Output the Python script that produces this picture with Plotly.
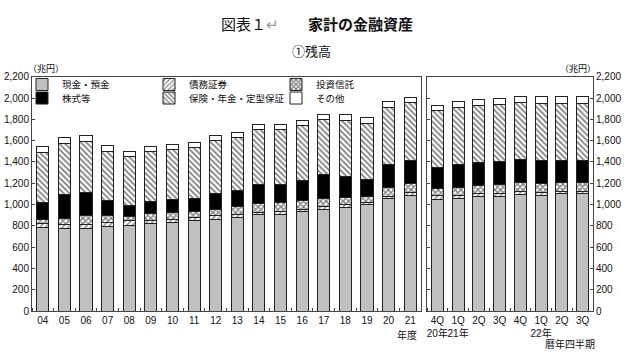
import plotly.graph_objects as go

W, H = 636, 356

# ---- data (兆円) ----
fy_labels = ["04", "05", "06", "07", "08", "09", "10", "11", "12",
             "13", "14", "15", "16", "17", "18", "19", "20", "21"]
cash_fy = [785, 780, 780, 795, 805, 820, 832, 850, 865, 880, 903, 912, 935, 955, 975, 1000, 1055, 1088]
bonds_fy = [35, 38, 38, 38, 45, 33, 32, 32, 30, 28, 22, 22, 20, 25, 28, 18, 25, 24]
inv_fy = [38, 55, 80, 65, 38, 65, 63, 58, 63, 70, 85, 82, 80, 76, 68, 62, 82, 90]
stocks_fy = [158, 222, 212, 137, 105, 115, 122, 122, 143, 158, 182, 176, 187, 227, 197, 158, 212, 210]
ins_fy = [476, 482, 482, 467, 460, 462, 468, 472, 498, 495, 512, 512, 516, 516, 525, 524, 537, 546]
other_fy = [55, 50, 52, 51, 50, 55, 48, 48, 48, 48, 50, 50, 52, 51, 54, 52, 52, 48]

q_labels = ["4Q<br>20年", "1Q<br>21年", "2Q", "3Q", "4Q", "1Q<br>22年", "2Q", "3Q"]
cash_q = [1052, 1056, 1072, 1072, 1095, 1088, 1100, 1102]
bonds_q = [30, 28, 30, 28, 25, 24, 22, 22]
inv_q = [72, 78, 82, 86, 85, 90, 88, 88]
stocks_q = [194, 212, 213, 219, 219, 212, 203, 201]
ins_q = [531, 537, 533, 536, 534, 538, 538, 532]
other_q = [55, 55, 58, 52, 60, 62, 62, 65]

series_names = ["現金・預金", "債務証券", "投資信託", "株式等", "保険・年金・定型保証", "その他"]
y_ticks = [0, 200, 400, 600, 800, 1000, 1200, 1400, 1600, 1800, 2000, 2200]

JP = "Liberation Sans, Noto Sans CJK JP"


def px(x):
    return x / W


def py(y):
    return 1 - y / H


styles = [
    dict(color="#c0c0c0"),
    dict(color="white", pattern=dict(shape="/", fgcolor="black", bgcolor="white", size=4, solidity=0.35)),
    dict(color="white", pattern=dict(shape="x", fgcolor="black", bgcolor="white", size=4, solidity=0.6)),
    dict(color="black"),
    dict(color="white", pattern=dict(shape="\\", fgcolor="black", bgcolor="white", size=4, solidity=0.45)),
    dict(color="white"),
]

fy_series = [cash_fy, bonds_fy, inv_fy, stocks_fy, ins_fy, other_fy]
q_series = [cash_q, bonds_q, inv_q, stocks_q, ins_q, other_q]

fig = go.Figure()
fx = list(range(len(fy_labels)))
qx = list(range(len(q_labels)))
for i, name in enumerate(series_names):
    st = dict(styles[i])
    st["line"] = dict(color="#222", width=1)
    fig.add_trace(go.Bar(x=fx, y=fy_series[i], name=name, marker=st, width=0.56,
                         xaxis="x", yaxis="y",
                         legend="legend" if i < 3 else "legend2"))
for i, name in enumerate(series_names):
    st = dict(styles[i])
    st["line"] = dict(color="#222", width=1)
    fig.add_trace(go.Bar(x=qx, y=q_series[i], name=name, marker=st, width=0.58,
                         xaxis="x2", yaxis="y2", showlegend=False))

tickfont = dict(family=JP, size=10, color="#111")
ydom = [py(316), py(74)]
legfont = dict(family=JP, size=9.5, color="#111")

fig.update_layout(
    width=W, height=H,
    margin=dict(l=0, r=0, t=0, b=0),
    paper_bgcolor="white", plot_bgcolor="white",
    barmode="stack", bargap=0.4,
    font=dict(family=JP, size=10, color="#111"),
    xaxis=dict(domain=[px(32), px(421)], range=[-0.5, len(fy_labels) - 0.5],
               tickvals=fx, ticktext=fy_labels, ticks="", tickfont=tickfont, tickangle=0,
               showline=True, linecolor="#444", linewidth=1, mirror=True,
               showgrid=False, zeroline=False, fixedrange=True,
               minor=dict(tick0=0.5, dtick=1, ticks="inside", ticklen=3, tickcolor="#444", showgrid=False)),
    yaxis=dict(domain=ydom, range=[0, 2200], tickvals=y_ticks, tickformat=",",
               ticks="inside", ticklen=3, tickcolor="#444", tickfont=tickfont,
               showline=True, linecolor="#444", linewidth=1, mirror=True,
               showgrid=False, zeroline=False),
    xaxis2=dict(domain=[px(427), px(593)], range=[-0.5, len(q_labels) - 0.5], anchor="y2",
                tickvals=qx, ticktext=q_labels, ticks="", tickfont=tickfont, tickangle=0,
                showline=True, linecolor="#444", linewidth=1, mirror=True,
                showgrid=False, zeroline=False,
                minor=dict(tick0=0.5, dtick=1, ticks="inside", ticklen=3, tickcolor="#444", showgrid=False)),
    yaxis2=dict(domain=ydom, range=[0, 2200], anchor="x2", side="right",
                tickvals=y_ticks, tickformat=",",
                ticks="inside", ticklen=3, tickcolor="#444", tickfont=tickfont,
                showline=True, linecolor="#444", linewidth=1, mirror="ticks",
                showgrid=False, zeroline=False),
    legend=dict(orientation="h", x=px(22), y=py(82), xanchor="left", yanchor="middle",
                entrywidth=82, bgcolor="rgba(0,0,0,0)", font=legfont,
                itemwidth=30, traceorder="normal"),
    legend2=dict(orientation="h", x=px(22), y=py(96), xanchor="left", yanchor="middle",
                 entrywidth=82, bgcolor="rgba(0,0,0,0)", font=legfont,
                 itemwidth=30, traceorder="normal"),
    showlegend=True,
)

ann = [
    dict(text="図表１<span style='color:#999'>↵</span>", x=px(250), y=py(19), font=dict(family="Noto Sans CJK JP", size=15, color="#111")),
    dict(text="<b>家計の金融資産</b>", x=px(360), y=py(19), font=dict(family="Noto Sans CJK JP", size=15, color="#111")),
    dict(text="①残高", x=px(311), y=py(47), font=dict(family="Noto Sans CJK JP", size=13, color="#111")),
    dict(text="（兆円）", x=px(46), y=py(66), font=dict(family=JP, size=9, color="#111")),
    dict(text="（兆円）", x=px(578), y=py(66), font=dict(family=JP, size=9, color="#111")),
    dict(text="年度", x=px(407), y=py(341), font=dict(family=JP, size=10, color="#111")),
    dict(text="暦年四半期", x=px(570), y=py(350), font=dict(family=JP, size=10, color="#111")),
]
for a in ann:
    a.update(xref="paper", yref="paper", showarrow=False, xanchor="center", yanchor="middle")
fig.update_layout(annotations=ann)

fig.write_html("out.html", config={"displayModeBar": False},
               post_script="document.body.style.margin='0';document.body.style.overflow='hidden';")
